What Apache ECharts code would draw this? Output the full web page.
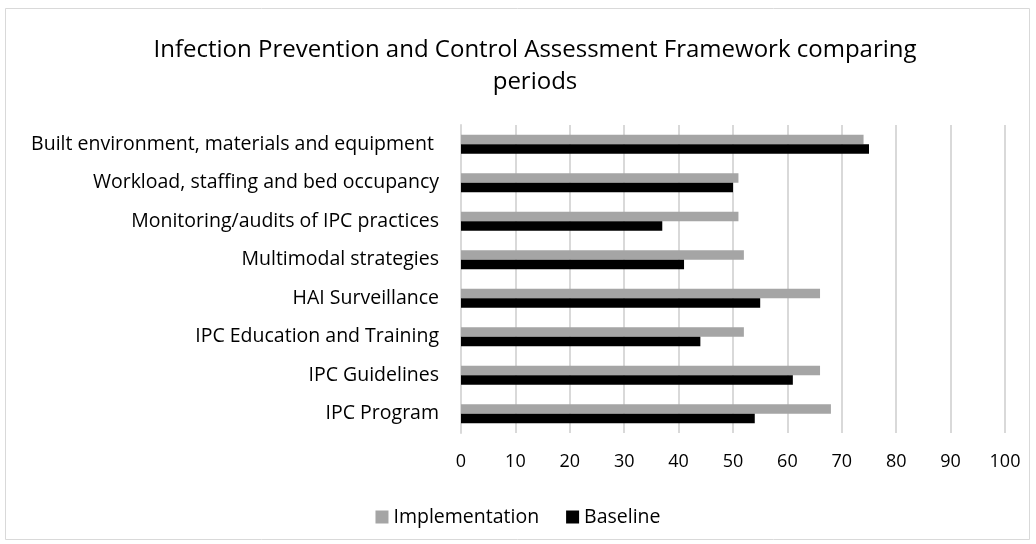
<!DOCTYPE html>
<html><head><meta charset="utf-8">
<script src="https://cdn.jsdelivr.net/npm/echarts@6/dist/echarts.min.js"></script>
<style>html,body{margin:0;padding:0;background:#fff}#c{width:1036px;height:544px}</style>
</head><body><div id="c"></div>
<script>
const categories = [
  "Built environment, materials and equipment ",
  "Workload, staffing and bed occupancy",
  "Monitoring/audits of IPC practices",
  "Multimodal strategies",
  "HAI Surveillance",
  "IPC Education and Training",
  "IPC Guidelines",
  "IPC Program"
];
const implementation = [74, 51, 51, 52, 66, 52, 66, 68];
const baseline = [75, 50, 37, 41, 55, 44, 61, 54];
const xTicks = {min: 0, max: 100, interval: 10};

const font = "'Open Sans', 'Noto Sans', sans-serif";
const chart = echarts.init(document.getElementById('c'));
chart.setOption({
  animation: false,
  backgroundColor: '#fff',
  graphic: [{type: 'rect', shape: {x: 5.5, y: 8.5, width: 1024, height: 531}, style: {fill: 'none', stroke: '#D9D9D9', lineWidth: 1}, silent: true, z: -1}],
  title: {
    text: 'Infection Prevention and Control Assessment Framework comparing\nperiods',
    left: 530, top: 29, textAlign: 'center',
    textStyle: {fontFamily: font, fontSize: 24, fontWeight: 'normal', color: '#000', lineHeight: 32}
  },
  legend: {
    data: ['Implementation', 'Baseline'],
    left: 'center', top: 502,
    itemWidth: 13, itemHeight: 13, itemGap: 27,
    icon: 'rect',
    textStyle: {fontFamily: font, fontSize: 19.5, color: '#000'}
  },
  grid: {left: 461, right: 31, top: 125, bottom: 111, containLabel: false},
  xAxis: {
    type: 'value', min: xTicks.min, max: xTicks.max, interval: xTicks.interval,
    axisLine: {show: false}, axisTick: {show: false},
    splitLine: {show: true, lineStyle: {color: '#D9D9D9', width: 2}},
    axisLabel: {fontFamily: font, fontSize: 18, color: '#000', margin: 20}
  },
  yAxis: {
    type: 'category', data: categories, inverse: true,
    axisLine: {show: true, lineStyle: {color: '#D9D9D9', width: 2}},
    axisTick: {show: false},
    axisLabel: {fontFamily: font, fontSize: 19.5, color: '#000', margin: 22}
  },
  series: [
    {name: 'Implementation', type: 'bar', data: implementation, barWidth: 9.5, barGap: '0%',
     itemStyle: {color: '#A5A5A5'}},
    {name: 'Baseline', type: 'bar', data: baseline, barWidth: 9.5, barGap: '0%',
     itemStyle: {color: '#000000'}}
  ]
});
</script></body></html>
